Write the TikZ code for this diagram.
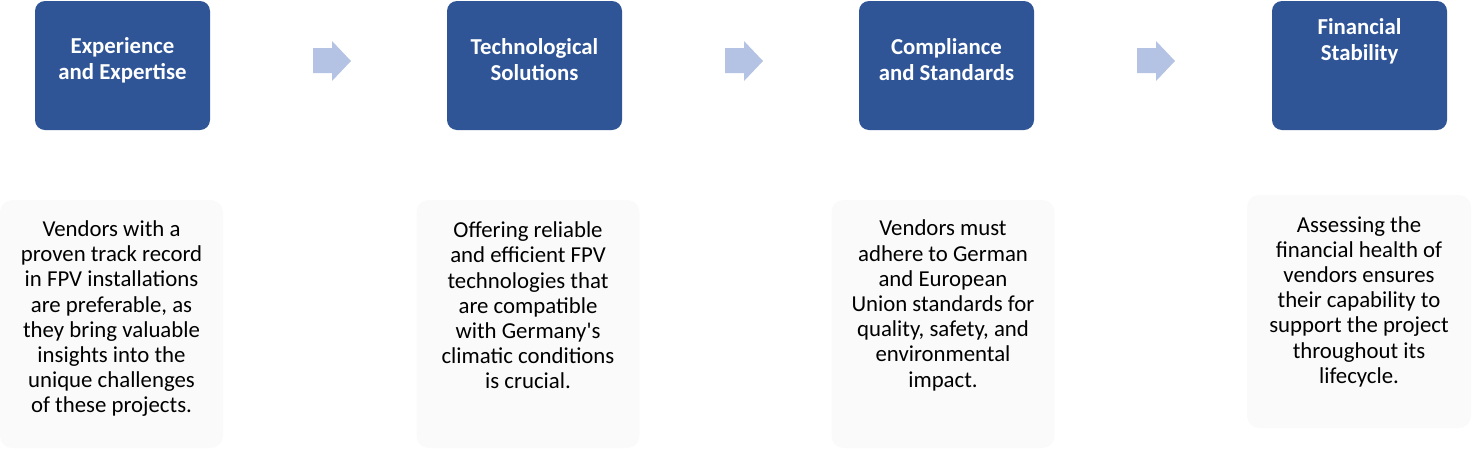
\documentclass[tikz,border=0pt]{standalone}
\usepackage{fontspec}
\setmainfont{Carlito}
\usepackage{xcolor}
\usepackage{tikz}
\definecolor{headblue}{HTML}{2F5597}
\definecolor{arrowblue}{HTML}{B4C2E4}
\definecolor{notegray}{HTML}{FAFAFA}

\begin{document}
\begin{tikzpicture}[x=0.5pt, y=-0.5pt,
	head/.style={fill=headblue, rounded corners=5pt, minimum width=87.5pt, minimum height=64.5pt, inner sep=0pt},
	headtext/.style={text=white, align=center, inner sep=0pt, font=\bfseries\fontsize{11.4}{13}\selectfont},
	note/.style={fill=notegray, rounded corners=6pt, minimum width=111.5pt, minimum height=124pt, inner sep=0pt},
	notetext/.style={text=black, align=center, inner sep=0pt, font=\fontsize{11.4}{12.6}\selectfont},
	arrowfill/.style={fill=arrowblue}]
	\useasboundingbox (0,0) rectangle (1478,456);
	\node[head] (h1) at (122.5,65.5) {};
	\node[head] (h2) at (534.5,65.5) {};
	\node[head] (h3) at (946.5,65.5) {};
	\node[head] (h4) at (1359.5,65.5) {};
	\node[headtext] (ht1) at (122.5,60) {Experience\\and Expertise};
	\node[headtext] (ht2) at (534.5,60) {Technological\\Solutions};
	\node[headtext] (ht3) at (946.5,60) {Compliance\\and Standards};
	\node[headtext] (ht4) at (1359.5,41) {Financial\\Stability};
	\node[note] (n1) at (111.5,324) {};
	\node[note] (n2) at (528,324) {};
	\node[note] (n3) at (943,324) {};
	\node[note, minimum width=112pt, minimum height=116.5pt] (n4) at (1359,311.5) {};
	\node[notetext] (nt1) at (111.5,318.7) {Vendors with a\\proven track record\\in FPV installations\\are preferable, as\\they bring valuable\\insights into the\\unique challenges\\of these projects.};
	\node[notetext] (nt2) at (528,305.5) {Offering reliable\\and efficient FPV\\technologies that\\are compatible\\with Germany\textquotesingle s\\climatic conditions\\is crucial.};
	\node[notetext] (nt3) at (943,305.5) {Vendors must\\adhere to German\\and European\\Union standards for\\quality, safety, and\\environmental\\impact.};
	\node[notetext] (nt4) at (1359,301.7) {Assessing the\\financial health of\\vendors ensures\\their capability to\\support the project\\throughout its\\lifecycle.};
	\foreach \x in {313,725,1137}
		\fill[arrowfill] (\x,48) -- (\x+19,48) -- (\x+19,41) -- (\x+38,61) -- (\x+19,81) -- (\x+19,73) -- (\x,73) -- cycle;
\end{tikzpicture}
\end{document}
